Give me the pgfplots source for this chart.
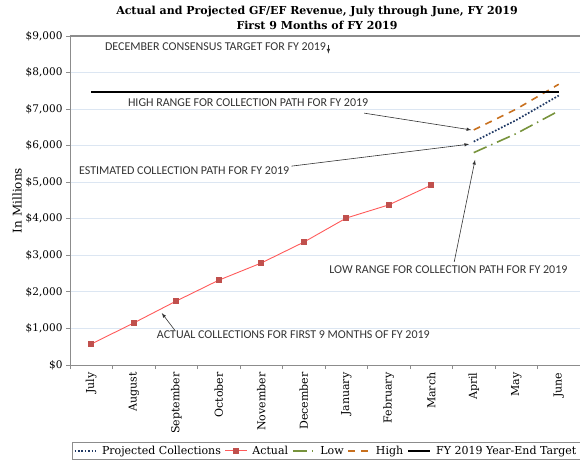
\documentclass[border=0pt]{standalone}
\usepackage{pgfplots}
\pgfplotsset{compat=1.18}
\usepackage{fontspec}
\setmainfont{DejaVu Serif}
\newfontfamily\annfont{Carlito}
\definecolor{gridblue}{HTML}{DCE6F2}
\definecolor{projblue}{HTML}{1F3864}
\definecolor{actred}{HTML}{FF5A5A}
\definecolor{markred}{HTML}{C0504D}
\definecolor{lowgreen}{HTML}{77933C}
\definecolor{highorange}{HTML}{C8701E}
\definecolor{axgray}{HTML}{8C8C8C}

\begin{document}
\begin{tikzpicture}[x=1pt,y=1pt]
\begin{axis}[
  at={(0,0)}, anchor=south west,
  scale only axis, width=510pt, height=329pt,
  xmin=-0.5, xmax=11.5, ymin=0, ymax=9000,
  axis x line*=bottom, axis y line*=left,
  axis line style={axgray, line width=0.9pt},
  xtick={0,...,11},
  xticklabels={July,August,September,October,November,December,January,February,March,April,May,June},
  major x tick style={draw=none},
  minor xtick={-0.5,0.5,...,11.5},
  minor x tick style={axgray, line width=0.8pt},
  minor tick length=4pt,
  x tick label style={rotate=90, anchor=east, font=\fontsize{11}{13}\selectfont},
  ytick={0,1000,...,9000},
  y tick style={axgray, line width=0.8pt},
  tick align=outside, major tick length=4pt,
  scaled y ticks=false,
  /pgf/number format/.cd, 1000 sep={,}, assume math mode=true, /pgfplots/.cd,
  yticklabel={\$\pgfmathprintnumber{\tick}},
  y tick label style={font=\fontsize{10.5}{12}\selectfont},
  ymajorgrids, grid style={gridblue, line width=0.9pt},
  ylabel={In Millions}, ylabel style={font=\fontsize{12}{14}\selectfont, yshift=-3pt},
  legend columns=5,
  legend image code/.code={\draw[mark repeat=2,mark phase=2,#1] plot coordinates {(0cm,0cm) (0.38cm,0cm) (0.76cm,0cm)};},
  legend style={at={(rel axis cs:0.502,-0.261)}, anchor=center, draw=axgray,
    font=\fontsize{11}{13}\selectfont, inner sep=1.5pt,
    /tikz/every even column/.append style={column sep=2pt},
    /tikz/every odd column/.append style={column sep=3pt}},
  legend cell align=left,
  clip=false,
]
\addplot[projblue, line width=1.7pt, dash pattern=on 1.7pt off 1.7pt] coordinates {(9,6110) (10,6700) (11,7370)};
\addlegendentry{Projected Collections}
\addplot[actred, line width=0.9pt, mark=square*, mark size=2.6pt, mark options={fill=markred, draw=markred}] coordinates {
 (0,574) (1,1150) (2,1750) (3,2320) (4,2790) (5,3360) (6,4020) (7,4380) (8,4920)};
\addlegendentry{Actual}
\addplot[lowgreen, line width=1.6pt, dash pattern=on 14pt off 5pt on 1.5pt off 5pt] coordinates {(9,5810) (10,6330) (11,6950)};
\addlegendentry{Low}
\addplot[highorange, line width=1.6pt, dash pattern=on 7pt off 6pt] coordinates {(9,6430) (10,7000) (11,7680)};
\addlegendentry{High}
\addplot[black, line width=2.4pt] coordinates {(0,7470) (11,7470)};
\addlegendentry{FY 2019 Year-End Target}

\draw[axgray, line width=1.2pt] (rel axis cs:0,1) -- (rel axis cs:1,1);

\begin{scope}[font=\annfont\fontsize{12}{14}\selectfont, text=black!80]
\node[anchor=west, inner sep=0pt] at (axis cs:0.32,8700) {DECEMBER CONSENSUS TARGET FOR FY 2019};
\node[anchor=west, inner sep=0pt] at (axis cs:0.86,7170) {HIGH RANGE FOR COLLECTION PATH FOR FY 2019};
\node[anchor=west, inner sep=0pt] at (axis cs:-0.29,5330) {ESTIMATED COLLECTION PATH FOR FY 2019};
\node[anchor=west, inner sep=0pt] at (axis cs:5.6,2600) {LOW RANGE FOR COLLECTION PATH FOR FY 2019};
\node[anchor=west, inner sep=0pt] at (axis cs:1.54,820) {ACTUAL COLLECTIONS FOR FIRST 9 MONTHS OF FY 2019};
\end{scope}
\begin{scope}[-latex, black!80, line width=0.6pt]
\draw (axis cs:5.58,8760) -- (axis cs:5.58,8520);
\draw (axis cs:6.42,6890) -- (axis cs:8.94,6430);
\draw (axis cs:4.71,5440) -- (axis cs:8.89,6040);
\draw (axis cs:8.54,2820) -- (axis cs:9.03,5610);
\draw (axis cs:1.96,960) -- (axis cs:1.66,1420);
\end{scope}
\end{axis}
\node[font=\bfseries\fontsize{11}{13}\selectfont, anchor=base] at (247,350) {Actual and Projected GF/EF Revenue, July through June, FY 2019};
\node[font=\bfseries\fontsize{11}{13}\selectfont, anchor=base] at (247,335) {First 9 Months of FY 2019};
\pgfresetboundingbox
\path[use as bounding box] (-70,-98) rectangle (510,365);
\end{tikzpicture}
\end{document}
